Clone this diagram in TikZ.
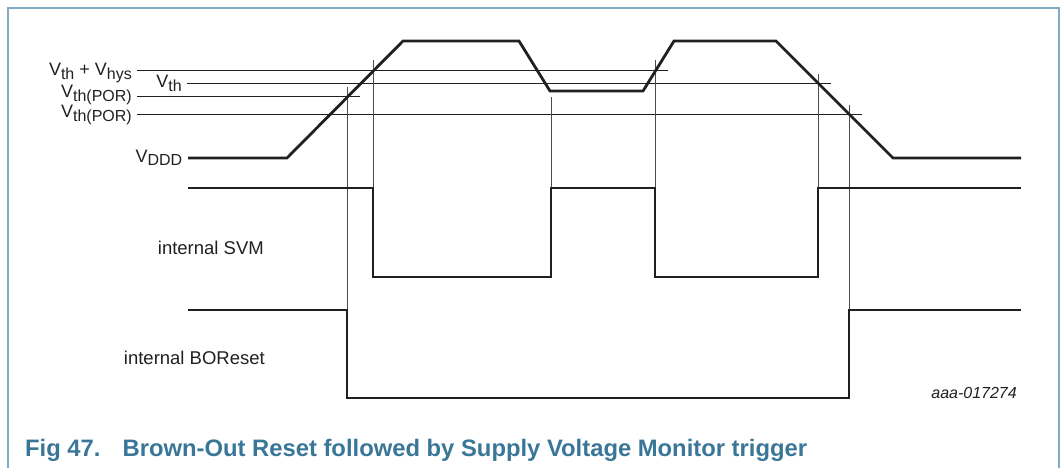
\documentclass[tikz,border=0pt]{standalone}
\usepackage{fontspec}
\setmainfont{Liberation Sans}
\usetikzlibrary{positioning}
\definecolor{figblue}{RGB}{58,118,152}
\definecolor{framegray}{RGB}{130,170,195}
\definecolor{inkgray}{RGB}{35,31,32}
\tikzset{
    wave/.style={line width=2.8pt, color=inkgray, line join=miter},
    thrline/.style={line width=1pt, color=inkgray},
    tickline/.style={line width=1pt, color=black!70},
    lvlabel/.style={anchor=base east, inner sep=0pt, font=\fontsize{18}{20}\selectfont, text=inkgray},
    siglabel/.style={anchor=base east, inner sep=0pt, font=\fontsize{18.5}{20}\selectfont, text=inkgray}
}
\newcommand{\vsub}[1]{\raisebox{-4pt}{\fontsize{16}{17}\selectfont #1}}

\begin{document}
\begin{tikzpicture}[x=1pt, y=-1pt]
  \useasboundingbox (0,0) rectangle (1063,468);
  \draw[framegray, line width=1.2pt] (8,470) -- (8,8) -- (1059,8) -- (1059,470);

  % threshold levels
  \foreach \yy/\xa/\xb in {71/137/668, 84/187/831, 97/137/360, 115/137/862} {
      \draw[thrline] (\xa,\yy) -- (\xb,\yy);
  }
  % timing markers
  \foreach \xx/\ya/\yb in {347/87/310, 373/60/188, 551/97/188, 655/60/188, 818/74/188, 849/105/310} {
      \draw[tickline] (\xx,\ya) -- (\xx,\yb);
  }

  % waveforms
  \draw[wave] (188,158) -- (287,158) -- (403,41) -- (519,41) -- (550,91) -- (643,91)
      -- (674,41) -- (776,41) -- (893,158) -- (1021,158);
  \draw[wave] (188,188) -- (373,188) -- (373,277) -- (551,277) -- (551,188) -- (655,188)
      -- (655,277) -- (818,277) -- (818,188) -- (1021,188);
  \draw[wave] (188,310) -- (347,310) -- (347,398) -- (849,398) -- (849,310) -- (1021,310);

  % labels
  \node[lvlabel] (vhys) at (132,76) {V\vsub{th} + V\vsub{hys}};
  \node[lvlabel] (vth) at (182,88) {V\vsub{th}};
  \node[lvlabel] (vpora) at (132,98) {V\vsub{th(POR)}};
  \node[lvlabel] (vporb) at (132,117.5) {V\vsub{th(POR)}};
  \node[lvlabel] (vddd) at (182.5,162) {V\vsub{DDD}};
  \node[siglabel] (svm) at (264,254) {internal SVM};
  \node[siglabel] (bor) at (265,364) {internal BOReset};
  \node[anchor=base east, inner sep=0pt, font=\itshape\fontsize{16}{18}\selectfont, text=inkgray] (figid) at (1017,398) {aaa-017274};
  \node[anchor=base west, inner sep=0pt, font=\bfseries\fontsize{23.8}{26}\selectfont, text=figblue] (caption) at (25,456)
      {Fig 47.\hspace{22pt}Brown-Out Reset followed by Supply Voltage Monitor trigger};
\end{tikzpicture}
\end{document}
